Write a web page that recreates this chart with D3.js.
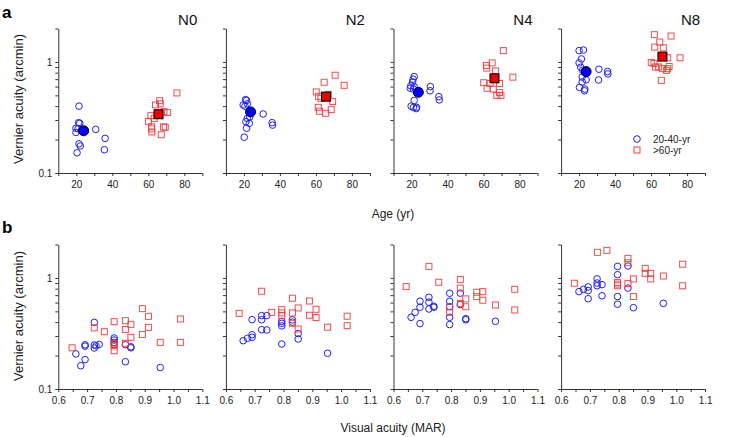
<!DOCTYPE html>
<html>
<head>
<meta charset="utf-8">
<script src="https://cdn.jsdelivr.net/npm/d3@7"></script>
<style>
  body { margin: 0; background: #fff; }
  svg text { font-family: "Liberation Sans", Arial, sans-serif; }
</style>
</head>
<body>
<div id="chart"></div>
<script>
// panel names
const conditions = ["N0", "N2", "N4", "N8"];

// top row: [age, vernier acuity] per subject
const youngAgeN0 = [[21.5,0.40],[21.3,0.284],[21.9,0.28],[19.8,0.253],[21.0,0.25],[19.8,0.232],[30.8,0.247],[36.0,0.205],[35.6,0.162],[21.5,0.183],[22.2,0.175],[20.4,0.152],[22.8,0.24]];
const oldAgeN0 = [[75.9,0.526],[66.3,0.448],[66.6,0.42],[64.0,0.41],[68.7,0.357],[70.7,0.35],[60.1,0.292],[63.3,0.31],[61.4,0.328],[61.8,0.261],[61.8,0.25],[62.0,0.234],[67.2,0.221],[68.5,0.26],[69.4,0.258]];
const youngAgeN2 = [[20.9,0.458],[21.5,0.45],[19.6,0.41],[21.9,0.42],[20.6,0.40],[30.7,0.34],[35.7,0.284],[35.9,0.27],[21.9,0.31],[23.3,0.32],[21.1,0.29],[23.0,0.28],[21.5,0.253],[20.2,0.21]];
const oldAgeN2 = [[70.7,0.759],[64.6,0.656],[75.7,0.616],[60.2,0.537],[61.5,0.49],[62.8,0.47],[66.9,0.51],[66.5,0.48],[69.3,0.44],[61.3,0.39],[62.0,0.36],[65.4,0.345],[68.5,0.372]];
const youngAgeN4 = [[21.5,0.738],[20.9,0.70],[20.6,0.66],[19.6,0.61],[21.5,0.60],[19.3,0.58],[21.1,0.57],[30.5,0.60],[30.3,0.55],[35.2,0.487],[35.4,0.455],[21.5,0.45],[19.8,0.40],[21.1,0.39],[22.8,0.39],[22.6,0.38]];
const oldAgeN4 = [[71.0,1.265],[64.8,0.98],[61.6,0.93],[61.8,0.88],[66.7,0.83],[76.3,0.73],[60.1,0.65],[63.7,0.64],[68.9,0.64],[62.0,0.58],[65.4,0.57],[68.9,0.53],[67.4,0.50],[69.7,0.50]];
const youngAgeN8 = [[20.0,1.265],[22.4,1.28],[21.3,1.064],[20.0,0.98],[20.9,0.896],[22.0,0.84],[31.0,0.86],[35.8,0.82],[36.0,0.78],[30.8,0.688],[21.7,0.73],[23.9,0.69],[21.7,0.66],[20.2,0.59],[23.2,0.57],[23.0,0.55]];
const oldAgeN8 = [[61.8,1.76],[71.1,1.71],[64.8,1.51],[62.0,1.36],[66.8,1.34],[76.1,1.09],[69.2,1.09],[60.1,0.99],[61.6,0.97],[64.2,0.90],[62.4,0.90],[66.4,0.87],[69.2,0.87],[70.0,0.91],[68.5,0.84],[65.7,0.683]];

// group means (top row)
const youngMeans = [[24.1,0.24],[23.7,0.355],[23.8,0.533],[23.9,0.818]];
const oldMeans = [[65.7,0.338],[65.6,0.487],[66.1,0.712],[66.3,1.117]];

// bottom row: [visual acuity (MAR), vernier acuity]
const youngVaN0 = [[0.661,0.207],[0.678,0.162],[0.693,0.184],[0.693,0.25],[0.693,0.243],[0.725,0.398],[0.725,0.249],[0.725,0.234],[0.731,0.245],[0.742,0.252],[0.794,0.288],[0.794,0.276],[0.794,0.263],[0.794,0.251],[0.833,0.251],[0.833,0.176],[0.852,0.24],[0.852,0.235],[0.954,0.156]];
const oldVaN0 = [[0.648,0.235],[0.725,0.355],[0.76,0.328],[0.794,0.404],[0.794,0.258],[0.794,0.245],[0.794,0.221],[0.833,0.412],[0.833,0.344],[0.833,0.258],[0.852,0.382],[0.852,0.292],[0.892,0.529],[0.892,0.31],[0.913,0.451],[0.913,0.359],[0.954,0.263],[1.024,0.427],[1.024,0.263]];
const youngVaN2 = [[0.66,0.272],[0.675,0.286],[0.691,0.292],[0.691,0.308],[0.691,0.421],[0.724,0.458],[0.724,0.42],[0.724,0.342],[0.742,0.458],[0.742,0.34],[0.794,0.406],[0.794,0.39],[0.794,0.37],[0.794,0.254],[0.831,0.42],[0.831,0.40],[0.851,0.316],[0.851,0.282],[0.953,0.21]];
const oldVaN2 = [[0.646,0.48],[0.724,0.759],[0.759,0.49],[0.794,0.518],[0.794,0.484],[0.794,0.458],[0.831,0.656],[0.831,0.484],[0.831,0.39],[0.851,0.537],[0.851,0.347],[0.89,0.62],[0.89,0.461],[0.913,0.522],[0.913,0.44],[0.953,0.36],[1.021,0.452],[1.021,0.372]];
const youngVaN4 = [[0.661,0.442],[0.675,0.49],[0.692,0.617],[0.692,0.545],[0.692,0.388],[0.723,0.67],[0.723,0.605],[0.723,0.525],[0.74,0.555],[0.74,0.545],[0.795,0.728],[0.795,0.617],[0.795,0.552],[0.795,0.442],[0.795,0.38],[0.832,0.73],[0.832,0.575],[0.851,0.43],[0.851,0.42],[0.954,0.407]];
const oldVaN4 = [[0.644,0.836],[0.723,1.27],[0.757,0.914],[0.795,0.55],[0.795,0.49],[0.832,0.97],[0.832,0.81],[0.832,0.59],[0.851,0.647],[0.851,0.55],[0.889,0.743],[0.889,0.679],[0.91,0.753],[0.91,0.63],[0.954,0.571],[1.021,0.79],[1.021,0.515]];
const youngVaN8 = [[0.662,0.753],[0.678,0.79],[0.694,0.83],[0.694,0.77],[0.694,0.65],[0.725,0.98],[0.725,0.90],[0.725,0.85],[0.742,0.87],[0.742,0.69],[0.796,1.27],[0.796,1.07],[0.796,0.68],[0.796,0.58],[0.832,1.28],[0.832,0.81],[0.851,0.54],[0.955,0.59]];
const oldVaN8 = [[0.646,0.896],[0.726,1.70],[0.759,1.77],[0.796,0.91],[0.796,0.88],[0.796,0.85],[0.832,1.5],[0.832,1.37],[0.832,0.89],[0.851,0.98],[0.851,0.68],[0.892,1.22],[0.892,1.10],[0.911,1.10],[0.911,0.98],[0.955,1.04],[1.022,1.33],[1.022,0.85]];

// ticks
const yTicks = [0.1,0.2,0.3,0.4,0.5,0.6,0.7,0.8,0.9,1,2];
const yTickLabels = {0.1: "0.1", 1: "1"};
const ageTicks = [10,20,30,40,50,60,70,80,90];
const ageTickLabels = [20,40,60,80];
const vaTicks = [0.6,0.65,0.7,0.75,0.8,0.85,0.9,0.95,1.0,1.05,1.1];
const vaTickLabels = ["0.6","0.7","0.8","0.9","1.0","1.1"];

const legendLabels = ["20-40-yr", ">60-yr"];

const youngAge = [youngAgeN0, youngAgeN2, youngAgeN4, youngAgeN8];
const oldAge = [oldAgeN0, oldAgeN2, oldAgeN4, oldAgeN8];
const youngVa = [youngVaN0, youngVaN2, youngVaN4, youngVaN8];
const oldVa = [oldVaN0, oldVaN2, oldVaN4, oldVaN8];

// layout
let W = 733, H = 437;
let panelW = 144, panelStep = 167.6, left0 = 58.3;
let rowTop = [28.5, 244.5], panelH = 144.5;
let blue = "#1f1fff", red = "#f23a3a", axisCol = "#333";

let svg = d3.select("#chart").append("svg")
    .attr("width", W)
    .attr("height", H);

function drawPanel(row, i) {
    let x0 = left0 + i * panelStep;
    let g = svg.append("g").attr("transform", `translate(${x0},${rowTop[row]})`);

    let y = d3.scaleLog().domain([0.1, 2]).range([panelH, 0]);
    let x = row === 0
        ? d3.scaleLinear().domain([10, 90]).range([0, panelW])
        : d3.scaleLinear().domain([0.6, 1.1]).range([0, panelW]);

    // y axis
    let yAxis = d3.axisLeft(y).tickValues(yTicks).tickSize(3).tickSizeOuter(0)
        .tickFormat(d => (i === 0 && yTickLabels[d]) ? yTickLabels[d] : "");
    let ya = g.append("g").call(yAxis);

    // x axis
    let xAxis;
    if (row === 0) {
        xAxis = d3.axisBottom(x).tickValues(ageTicks).tickSize(3).tickSizeOuter(0)
            .tickFormat(d => ageTickLabels.includes(d) ? d : "");
    } else {
        xAxis = d3.axisBottom(x).tickValues(vaTicks).tickSize(3).tickSizeOuter(0)
            .tickFormat(d => vaTickLabels.includes(d.toFixed(2).slice(0, 3)) && Math.abs(d * 10 - Math.round(d * 10)) < 1e-6 ? d.toFixed(1) : "");
    }
    let xa = g.append("g").attr("transform", `translate(0,${panelH})`).call(xAxis);

    [ya, xa].forEach(a => {
        a.selectAll("path, line").attr("stroke", axisCol);
        a.selectAll("text").attr("fill", "#222").style("font-size", "10px")
            .style("font-family", "'Liberation Sans', Arial, sans-serif");
    });
    xa.select(".domain").attr("d", `M-2,0.5H${panelW}`);
    xa.selectAll("text").attr("dy", "0.9em");

    let young = row === 0 ? youngAge[i] : youngVa[i];
    let old = row === 0 ? oldAge[i] : oldVa[i];

    // young: open blue circles
    g.selectAll(".young")
        .data(young)
        .enter().append("circle")
        .attr("class", "young")
        .attr("cx", d => x(d[0]))
        .attr("cy", d => y(d[1]))
        .attr("r", 3.3)
        .attr("fill", "none")
        .attr("stroke", blue)
        .attr("stroke-width", 1);

    // old: open red squares
    let s = 6;
    g.selectAll(".old")
        .data(old)
        .enter().append("rect")
        .attr("class", "old")
        .attr("x", d => x(d[0]) - s / 2)
        .attr("y", d => y(d[1]) - s / 2)
        .attr("width", s)
        .attr("height", s)
        .attr("fill", "none")
        .attr("stroke", red)
        .attr("stroke-opacity", 0.9)
        .attr("stroke-width", 1);

    if (row === 0) {
        // group means
        let ym = youngMeans[i], om = oldMeans[i];
        g.append("circle")
            .attr("cx", x(ym[0])).attr("cy", y(ym[1])).attr("r", 5)
            .attr("fill", "#0000ff").attr("stroke", "#000").attr("stroke-width", 1);
        let ms = 9;
        g.append("rect")
            .attr("x", x(om[0]) - ms / 2).attr("y", y(om[1]) - ms / 2)
            .attr("width", ms).attr("height", ms)
            .attr("fill", "#ee0000").attr("stroke", "#000").attr("stroke-width", 1);

        // panel title
        g.append("text")
            .attr("x", panelW - 5)
            .attr("y", -3.5)
            .attr("text-anchor", "end")
            .style("font-size", "15px")
            .attr("fill", "#111")
            .text(conditions[i]);
    }
}

[0, 1].forEach(row => conditions.forEach((c, i) => drawPanel(row, i)));

// legend (in N8 panel)
let lg = svg.append("g").attr("transform", "translate(637,139)");
lg.append("circle").attr("cx", 0).attr("cy", 0).attr("r", 3.3)
    .attr("fill", "none").attr("stroke", blue);
lg.append("rect").attr("x", -3).attr("y", 8).attr("width", 6).attr("height", 6)
    .attr("fill", "none").attr("stroke", red);
lg.selectAll(".lgtext")
    .data(legendLabels)
    .enter().append("text")
    .attr("x", 16)
    .attr("y", (d, k) => k * 11.5 + 3.5)
    .style("font-size", "10px")
    .attr("fill", "#222")
    .text(d => d);

// axis labels
svg.append("text")
    .attr("x", 393).attr("y", 217.5)
    .attr("text-anchor", "middle")
    .style("font-size", "12px").attr("fill", "#222")
    .text("Age (yr)");

svg.append("text")
    .attr("x", 393).attr("y", 432)
    .attr("text-anchor", "middle")
    .style("font-size", "12px").attr("fill", "#222")
    .text("Visual acuity (MAR)");

[99, 316].forEach(cy => {
    svg.append("text")
        .attr("transform", `translate(22.5,${cy}) rotate(-90)`)
        .attr("text-anchor", "middle")
        .style("font-size", "13px").attr("fill", "#222")
        .text("Vernier acuity (arcmin)");
});

// panel letters
svg.append("text").attr("x", 2).attr("y", 18)
    .style("font-size", "17px").style("font-weight", "bold").text("a");
svg.append("text").attr("x", 2).attr("y", 233)
    .style("font-size", "17px").style("font-weight", "bold").text("b");
</script>
</body>
</html>
